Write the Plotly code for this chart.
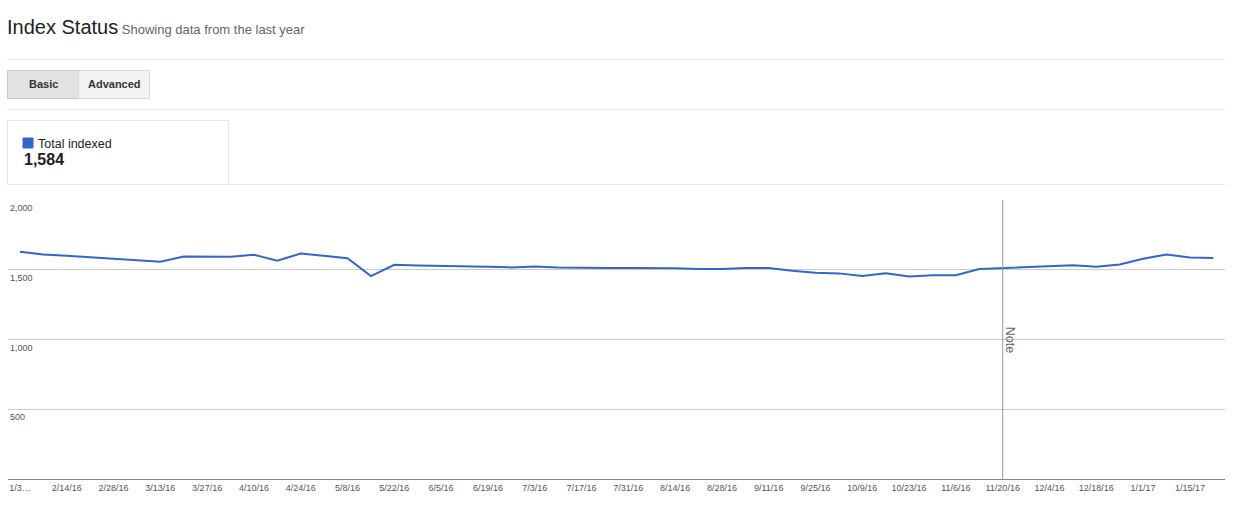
import plotly.graph_objects as go

# ---------------- data ----------------
dates = ["1/31/16", "2/7/16", "2/14/16", "2/21/16", "2/28/16", "3/6/16", "3/13/16", "3/20/16",
         "3/27/16", "4/3/16", "4/10/16", "4/17/16", "4/24/16", "5/1/16", "5/8/16", "5/15/16",
         "5/22/16", "5/29/16", "6/5/16", "6/12/16", "6/19/16", "6/26/16", "7/3/16", "7/10/16",
         "7/17/16", "7/24/16", "7/31/16", "8/7/16", "8/14/16", "8/21/16", "8/28/16", "9/4/16",
         "9/11/16", "9/18/16", "9/25/16", "10/2/16", "10/9/16", "10/16/16", "10/23/16", "10/30/16",
         "11/6/16", "11/13/16", "11/20/16", "11/27/16", "12/4/16", "12/11/16", "12/18/16", "12/25/16",
         "1/1/17", "1/8/17", "1/15/17", "1/22/17"]

total_indexed = [1629, 1610, 1600, 1590, 1581, 1571, 1557, 1595,
                 1593, 1593, 1607, 1564, 1617, 1600, 1583, 1455,
                 1536, 1531, 1529, 1524, 1521, 1517, 1524, 1517,
                 1512, 1512, 1512, 1512, 1510, 1505, 1505, 1512,
                 1512, 1493, 1479, 1474, 1455, 1474, 1452, 1460,
                 1460, 1505, 1512, 1519, 1529, 1533, 1521, 1538,
                 1579, 1610, 1588, 1584]

x_tick_vals = dates[0::2]
x_tick_text = ["1/3…"] + dates[2::2]

y_tick_vals = [500, 1000, 1500, 2000]
y_tick_text = ["500", "1,000", "1,500", "2,000"]

note_date = "11/20/16"
series_name = "Total indexed"
latest_value_text = "1,584"

# ---------------- geometry helpers ----------------
W, H = 1240, 510
PL, PR, PT, PB = 8, 1225, 200, 479   # plot area in pixels


def px(x):
    return (x - PL) / (PR - PL)


def py(y):
    return (PB - y) / (PB - PT)


FONT = "Arial, Liberation Sans, Helvetica, sans-serif"
BLUE = "#3366cc"

fig = go.Figure()
fig.add_trace(go.Scatter(
    x=dates, y=total_indexed, mode="lines", name=series_name,
    line=dict(color=BLUE, width=2), showlegend=False,
    hovertemplate="%{x}<br>%{y:,}<extra></extra>"))

shapes = []
annotations = []


def hline(y, x0, x1, color):
    shapes.append(dict(type="line", xref="paper", yref="paper",
                       x0=px(x0), x1=px(x1), y0=py(y), y1=py(y),
                       line=dict(color=color, width=1)))


def rect(x0, y0, x1, y1, fill, border):
    shapes.append(dict(type="rect", xref="paper", yref="paper",
                       x0=px(x0), x1=px(x1), y0=py(y1), y1=py(y0),
                       fillcolor=fill, line=dict(color=border, width=1), layer="above"))


def text(x, y, s, size, color, xanchor="left", yanchor="middle"):
    annotations.append(dict(xref="paper", yref="paper", x=px(x), y=py(y), text=s,
                            showarrow=False, xanchor=xanchor, yanchor=yanchor,
                            font=dict(family=FONT, size=size, color=color)))


# title
text(5, 27, "Index Status<span style='font-size:13px;color:#666666'> Showing data from the last year</span>",
     20, "#222222")
hline(59.5, 7, 1225, "#e5e5e5")

# buttons
rect(7.5, 70.5, 78.5, 98.5, "#e2e2e2", "#c8c8c8")
rect(78.5, 70.5, 149.5, 98.5, "#f3f3f3", "#d9d9d9")
text(43, 84, "<b>Basic</b>", 11, "#333333", xanchor="center")
text(114, 84, "<b>Advanced</b>", 11, "#333333", xanchor="center")
hline(109.5, 7, 1225, "#e5e5e5")

# legend box
rect(7.5, 120.5, 228.5, 184.5, "rgba(255,255,255,0)", "#e5e5e5")
hline(184.5, 228, 1225, "#e5e5e5")
rect(23, 138, 33, 148, BLUE, BLUE)
text(36, 143.5, series_name, 12.5, "#222222")
text(22, 159, "<b>" + latest_value_text + "</b>", 16, "#222222")

# y tick labels drawn just below their gridlines, inside the plot
for v, t in zip(y_tick_vals, y_tick_text):
    annotations.append(dict(xref="paper", yref="y", x=px(8), y=v, yshift=-1,
                            text=t, showarrow=False, xanchor="left", yanchor="top",
                            font=dict(family=FONT, size=9, color="#555555")))

# note line
shapes.append(dict(type="line", xref="x", yref="paper",
                   x0=dates.index(note_date), x1=dates.index(note_date), y0=0, y1=1,
                   line=dict(color="#999999", width=1)))
annotations.append(dict(xref="x", yref="y", x=dates.index(note_date), y=1000,
                        xshift=8, text="Note", textangle=90, showarrow=False,
                        font=dict(family=FONT, size=12.5, color="#666666")))

fig.update_layout(
    width=W, height=H,
    margin=dict(l=PL, r=W - PR, t=PT, b=H - PB, pad=0),
    paper_bgcolor="white", plot_bgcolor="white",
    font=dict(family=FONT, color="#555555"),
    shapes=shapes, annotations=annotations,
    xaxis=dict(type="category", range=[-0.51, 51.5],
               tickmode="array", tickvals=x_tick_vals, ticktext=x_tick_text,
               tickfont=dict(size=9, color="#555555"), ticks="", ticklen=0,
               showgrid=False, showline=True, linecolor="#888888", linewidth=1,
               zeroline=False, fixedrange=True),
    yaxis=dict(range=[0, 2000], tickmode="array", tickvals=y_tick_vals,
               showticklabels=False,
               showgrid=True, gridcolor="#cccccc", gridwidth=1, zeroline=False,
               showline=False, ticks="", fixedrange=True),
    hovermode="x",
)

fig.write_html("out.html", config={"displayModeBar": False},
               post_script="document.body.style.margin='0px';")
